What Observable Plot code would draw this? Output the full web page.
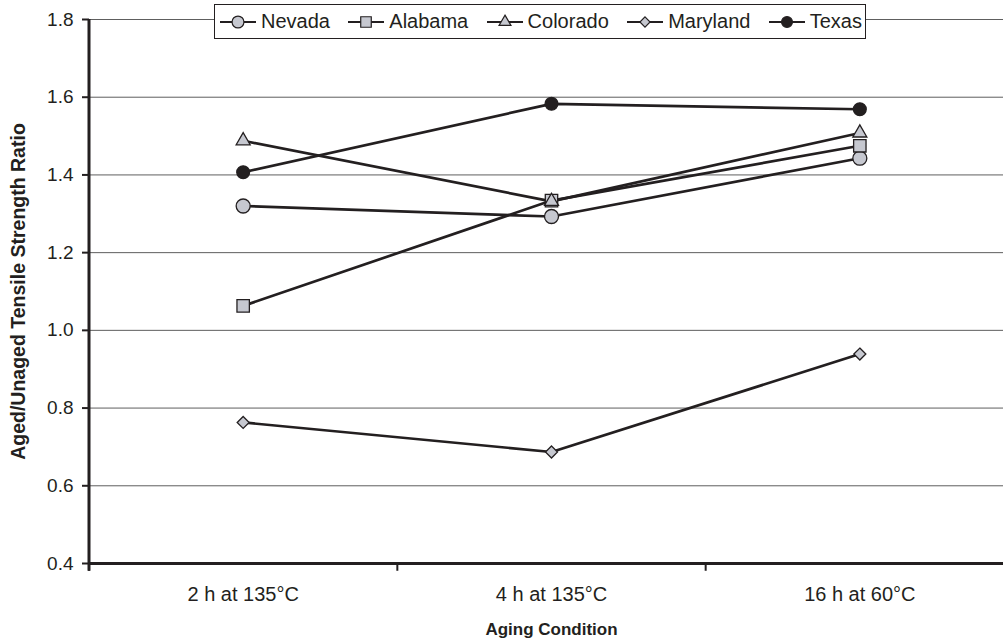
<!DOCTYPE html>
<html><head><meta charset="utf-8">
<script src="https://cdn.jsdelivr.net/npm/d3@7"></script>
<script src="https://cdn.jsdelivr.net/npm/@observablehq/plot@0.6"></script>
<style>
body{margin:0;background:#fff;font-family:"Liberation Sans",Arial,sans-serif;}
#wrap{position:relative;width:1003px;height:643px;overflow:hidden;}
#legend{position:absolute;left:214px;top:4px;width:652px;height:35px;box-sizing:border-box;border:1px solid #231f20;background:#fff;display:flex;align-items:center;justify-content:space-between;padding:0 3px 0 4px;font-size:20px;color:#231f20;}
.item{display:flex;align-items:center;}
.item svg{margin-right:4px;}
g[aria-label="y-axis tick"] path, g[aria-label="y-axis"] .tick line{stroke-width:2px;}
g[aria-label="y-axis tick label"] text, g[aria-label="y-axis"] text{font-size:19px;}
g[aria-label="x-axis tick label"] text, g[aria-label="x-axis"] text{font-size:20px;}
</style></head><body><div id="wrap"><div id="legend"></div></div>
<script>
const categories = ["2 h at 135°C", "4 h at 135°C", "16 h at 60°C"];
const seriesNames = ["Nevada", "Alabama", "Colorado", "Maryland", "Texas"];
const nevada   = [1.320, 1.293, 1.443];
const alabama  = [1.063, 1.334, 1.475];
const colorado = [1.488, 1.332, 1.508];
const maryland = [0.763, 0.687, 0.939];
const texas    = [1.407, 1.583, 1.569];
const yTicks = [0.4, 0.6, 0.8, 1.0, 1.2, 1.4, 1.6, 1.8];
const categoryBoundaries = [-0.5, 0.5, 1.5];

const seriesValues = {Nevada: nevada, Alabama: alabama, Colorado: colorado, Maryland: maryland, Texas: texas};
const data = seriesNames.flatMap(s => seriesValues[s].map((v, i) => ({series: s, i, value: v})));

const ink = "#231f20";
const light = "#c6c8d0";
const markerStyle = {
  Nevada:   {symbol: "circle",   r: 7.0, fill: light},
  Alabama:  {symbol: "square",   r: 7.0, fill: light},
  Colorado: {symbol: "triangle", r: 5.2, fill: light},
  Maryland: {symbol: "diamond2", r: 5.4, fill: light},
  Texas:    {symbol: "circle",   r: 6.4, fill: ink}
};

const chart = Plot.plot({
  width: 1003,
  height: 643,
  marginLeft: 89,
  marginRight: 0,
  marginTop: 19,
  marginBottom: 80,
  style: {fontFamily: '"Liberation Sans", Arial, sans-serif', fontSize: "19px", color: ink, background: "white"},
  x: {domain: [-0.5, 2.5], range: [88.5, 1013.5], ticks: [0, 1, 2], tickFormat: i => categories[i], tickSize: 0, tickPadding: 23, label: null},
  y: {domain: [0.4, 1.8], ticks: yTicks, tickFormat: d => d.toFixed(1), tickSize: 7, tickPadding: 9, label: null},
  marks: [
    Plot.ruleY(yTicks.filter(t => t > 0.4), {stroke: "#5e5e5e", strokeWidth: 1}),
    Plot.ruleY([0.4], {stroke: ink, strokeWidth: 3}),
    Plot.ruleX([categoryBoundaries[0]], {y1: 0.38, y2: 1.8, stroke: ink, strokeWidth: 3}),
    Plot.ruleX(categoryBoundaries, {y1: 0.38, y2: 0.4, stroke: ink, strokeWidth: 2}),
    Plot.line(data, {x: "i", y: "value", z: "series", stroke: ink, strokeWidth: 2.7}),
    ...seriesNames.map(s => Plot.dot(data.filter(d => d.series === s), {
      x: "i", y: "value",
      symbol: markerStyle[s].symbol, r: markerStyle[s].r,
      fill: markerStyle[s].fill, stroke: ink, strokeWidth: 1.3
    })),
    Plot.text(["Aged/Unaged Tensile Strength Ratio"], {frameAnchor: "left", textAnchor: "middle", dx: -71, rotate: -90, fontWeight: "bold", fontSize: 19.5, fill: ink}),
    Plot.text(["Aging Condition"], {frameAnchor: "bottom", textAnchor: "middle", dx: 5, dy: 71, fontWeight: "bold", fontSize: 17, fill: ink})
  ]
});
document.getElementById("wrap").prepend(chart);

// legend
const legend = d3.select("#legend");
const symMap = {circle: d3.symbolCircle, square: d3.symbolSquare, triangle: d3.symbolTriangle, diamond2: d3.symbolDiamond2};
seriesNames.forEach(s => {
  const it = legend.append("div").attr("class", "item");
  const sv = it.append("svg").attr("width", 38).attr("height", 18);
  sv.append("line").attr("x1", 1).attr("x2", 37).attr("y1", 9).attr("y2", 9).attr("stroke", ink).attr("stroke-width", 2);
  const st = markerStyle[s];
  const rr = st.r * 0.85;
  sv.append("path").attr("transform", "translate(19,9)")
    .attr("d", d3.symbol(symMap[st.symbol], Math.PI * rr * rr)())
    .attr("fill", st.fill).attr("stroke", ink).attr("stroke-width", 1.2);
  it.append("span").text(s);
});
</script></body></html>
